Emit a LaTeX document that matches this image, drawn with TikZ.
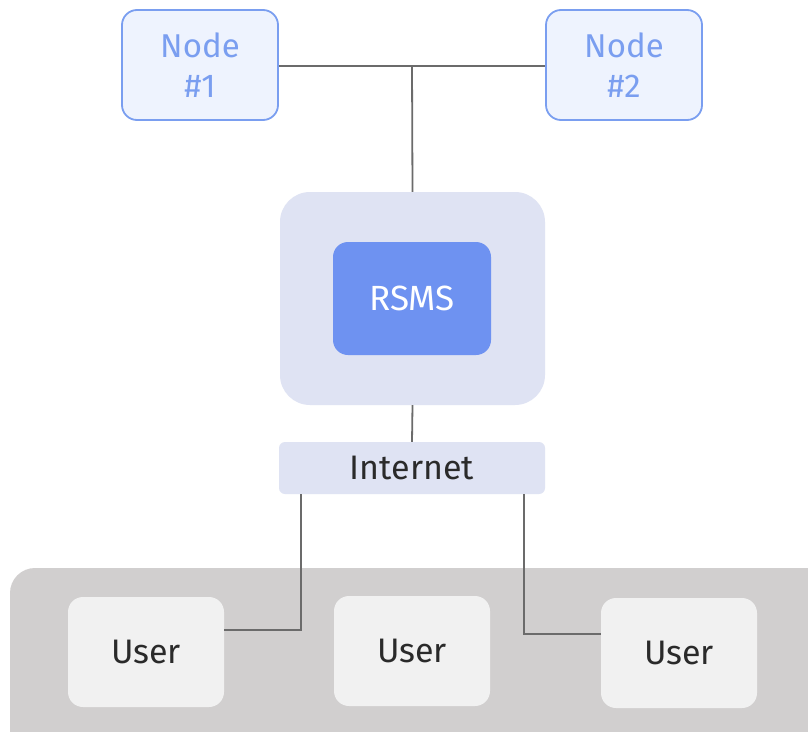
\documentclass[tikz,border=0pt]{standalone}
\usepackage{fontspec}
\setmainfont{Fira Sans}
\begin{document}
\begin{tikzpicture}[x=1pt,y=-1pt,
  nodebox/.style={draw=nodeblue,line width=1.8pt,fill=nodefill,rounded corners=15pt,
    minimum width=156pt,minimum height=110pt,text=nodeblue,align=center,font=\fontsize{33}{40}\selectfont,inner sep=0pt},
  userbox/.style={fill=userfill,rounded corners=15pt,minimum width=156pt,minimum height=110pt,
    text=textdark,font=\fontsize{34}{40}\selectfont,inner sep=0pt},
  wire/.style={draw=wiregray,line width=1.8pt}]
\definecolor{nodeblue}{HTML}{7A9EF0}
\definecolor{nodefill}{HTML}{EEF3FE}
\definecolor{outerfill}{HTML}{DFE3F3}
\definecolor{rsmsfill}{HTML}{6E92F1}
\definecolor{grayfill}{HTML}{D1CFCF}
\definecolor{userfill}{HTML}{F1F1F1}
\definecolor{textdark}{HTML}{2A2A2A}
\definecolor{wiregray}{HTML}{6B6B6B}
\useasboundingbox (0,0) rectangle (808,731);
\fill[white] (0,0) rectangle (808,731);
% gray container
\fill[grayfill,rounded corners=25pt] (10,568) rectangle (840,760);
% nodes
\node[nodebox] (n1) at (200,65) {Node\\\#1};
\node[nodebox] (n2) at (624,65) {Node\\\#2};
% RSMS
\node[fill=outerfill,rounded corners=30pt,minimum width=265pt,minimum height=213pt,inner sep=0pt] (outer) at (412.5,298.5) {};
\node[fill=rsmsfill,rounded corners=15pt,minimum width=158pt,minimum height=113pt,inner sep=0pt,text=white,font=\fontsize{35}{40}\selectfont] (rsms) at (412,298.5) {RSMS};
% Internet
\node[fill=outerfill,rounded corners=6pt,minimum width=266pt,minimum height=52pt,inner sep=0pt,text=textdark,font=\fontsize{34}{40}\selectfont] (inet) at (412,468) {Internet};
% users
\node[userbox] (u1) at (146,652) {User};
\node[userbox] (u2) at (412,651) {User};
\node[userbox] (u3) at (679,653) {User};
% wires
\coordinate (j) at (412,66);
\draw[wire] (n1.east |- j) -- (n2.west |- j);
\draw[wire] (j) -- (outer.north);
\draw[wire] (outer.south) -- (inet.north);
\draw[wire] (301,494) |- (u1.east |- 0,630);
\draw[wire] (524,494) |- (u3.west |- 0,634);
\end{tikzpicture}
\end{document}
